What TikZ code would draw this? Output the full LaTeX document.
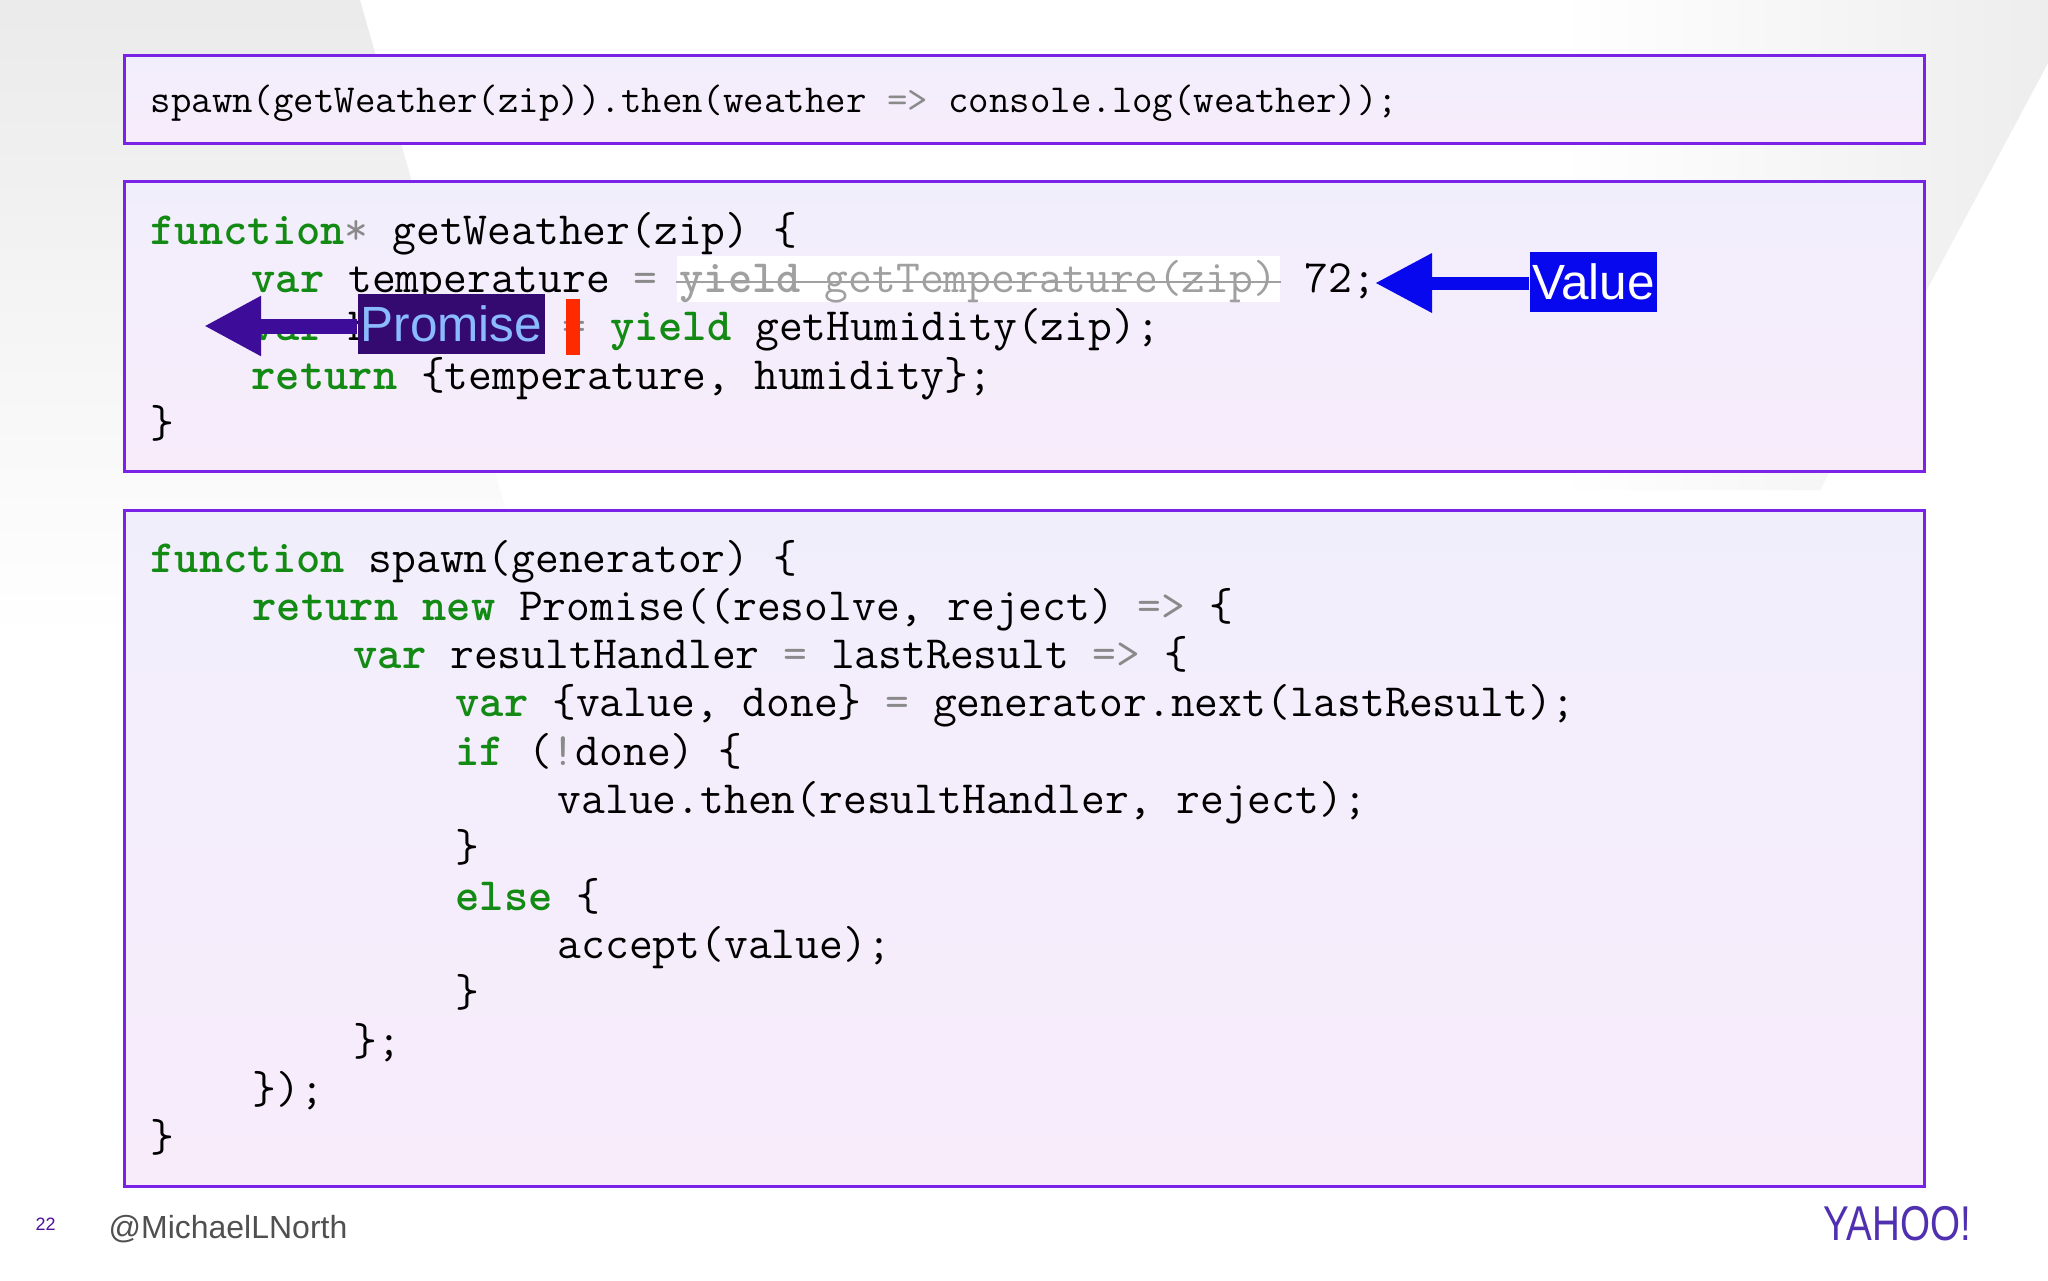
\documentclass[tikz,border=0pt]{standalone}
\usepackage{fontspec}
\setmainfont{Liberation Sans}
\usetikzlibrary{arrows.meta}

\definecolor{boxline}{RGB}{122,34,230}
\definecolor{filltop}{RGB}{241,238,252}
\definecolor{fillbot}{RGB}{248,236,251}
\definecolor{kwgreen}{RGB}{19,138,19}
\definecolor{opgray}{RGB}{138,138,138}
\definecolor{strikegray}{RGB}{160,160,160}
\definecolor{promisebg}{RGB}{52,10,112}
\definecolor{promisefg}{RGB}{139,187,255}
\definecolor{promisearrow}{RGB}{61,12,152}
\definecolor{valueblue}{RGB}{8,8,238}
\definecolor{markred}{RGB}{255,42,0}
\definecolor{footgray}{RGB}{80,80,80}
\definecolor{pagenum}{RGB}{75,15,158}
\definecolor{logopurple}{RGB}{80,48,176}

\newcommand{\kwd}[1]{\textcolor{kwgreen}{\bfseries #1}}
\newcommand{\opr}[1]{\textcolor{opgray}{#1}}
\newcommand{\codesize}{\fontsize{13.15pt}{15pt}\selectfont}
\newcommand{\callsize}{\fontsize{11.3pt}{13pt}\selectfont}
\newcommand{\tagsize}{\fontsize{14.08pt}{16pt}\selectfont}

\begin{document}
\begin{tikzpicture}[x=0.1mm,y=-0.1mm,
  codebox/.style={draw=boxline,line width=0.3mm,top color=filltop,bottom color=fillbot},
  codeline/.style={anchor=base west,inner sep=0pt,font=\ttfamily\codesize},
  tag/.style={inner sep=0pt,font=\tagsize,minimum height=6mm},
  bigarrow/.style={-{Triangle[length=5.7mm,width=5.6mm]}}]

\useasboundingbox[fill=white] (0,0) rectangle (2048,1280);

% slide background
\shade[top color=black!8,bottom color=white] (0,0) -- (360,0) -- (520,560) -- (0,640) -- cycle;
\shade[left color=white,right color=black!7] (1560,0) -- (2048,0) -- (2048,63) -- (1820,490) -- (1560,490) -- cycle;

\draw[codebox] (124,55) rectangle (1924,143);
\draw[codebox] (124,181) rectangle (1924,471);
\draw[codebox] (124,510) rectangle (1924,1186);

\node[codeline,font=\ttfamily\callsize] (call) at (150,112) {spawn(getWeather(zip)).then(weather \opr{=>} console.log(weather));};

% the generator
\node[codeline] (g1) at (150,244) {\kwd{function}\opr{*} getWeather(zip) \{};
\node[codeline] (g2) at (251,292.3) {\kwd{var} temperature \opr{=}};
\node[codeline,fill=white,inner xsep=0.3mm,text height=3.6mm,text depth=1mm,text=strikegray] (struck) at (676,292.3) {{\bfseries yield} getTemperature(zip)};
\draw[strikegray,line width=0.2mm] ([yshift=1mm]struck.base west) -- ([yshift=1mm]struck.base east);
\node[codeline] (g2b) at ([xshift=2.3mm]struck.base east) {72;};
\node[codeline] (g3) at (251,340.6) {\kwd{var} humidity \opr{=} \kwd{yield} getHumidity(zip);};
\node[codeline] (g4) at (251,389) {\kwd{return} \{temperature, humidity\};};
\node[codeline] (g5) at (150,437) {\}};

\fill[markred] (566,299) rectangle (580,355);

\node[tag,fill=promisebg,text=promisefg,minimum width=18.7mm] (promise) at (451.5,324) {Promise};
\coordinate (promisetip) at (204,326);
\draw[bigarrow,promisearrow,line width=1.5mm] (promise.west |- promisetip) -- (promisetip);

\node[tag,fill=valueblue,text=white,minimum width=12.7mm] (value) at (1593.5,282) {Value};
\coordinate (valuetip) at (1375,283);
\draw[bigarrow,valueblue,line width=1.3mm] (value.west |- valuetip) -- (valuetip);

% spawn
\node[codeline] (s1) at (150,572) {\kwd{function} spawn(generator) \{};
\node[codeline] (s2) at (252,620.3) {\kwd{return new} Promise((resolve, reject) \opr{=>} \{};
\node[codeline] (s3) at (353,668.6) {\kwd{var} resultHandler \opr{=} lastResult \opr{=>} \{};
\node[codeline] (s4) at (455,716.9) {\kwd{var} \{value, done\} \opr{=} generator.next(lastResult);};
\node[codeline] (s5) at (455,765.2) {\kwd{if} (\opr{!}done) \{};
\node[codeline] (s6) at (557,813.5) {value.then(resultHandler, reject);};
\node[codeline] (s7) at (455,861.8) {\}};
\node[codeline] (s8) at (455,910.1) {\kwd{else} \{};
\node[codeline] (s9) at (557,958.4) {accept(value);};
\node[codeline] (s10) at (455,1006.7) {\}};
\node[codeline] (s11) at (353,1055) {\};};
\node[codeline] (s12) at (252,1103.3) {\});};
\node[codeline] (s13) at (150,1151.6) {\}};

% footer
\node[anchor=base west,inner sep=0pt,text=pagenum,font={\fontsize{5.1pt}{6pt}\selectfont}] (page) at (35,1230) {22};
\node[anchor=base west,inner sep=0pt,text=footgray,font={\fontsize{9.1pt}{11pt}\selectfont}] (handle) at (108,1238) {@MichaelLNorth};
\node[anchor=base west,inner sep=0pt,text=logopurple,font={\fontsize{13.9pt}{16pt}\selectfont}] (logo) at (1823,1240) {\scalebox{0.79}[1]{YAHOO!}};
\end{tikzpicture}
\end{document}
